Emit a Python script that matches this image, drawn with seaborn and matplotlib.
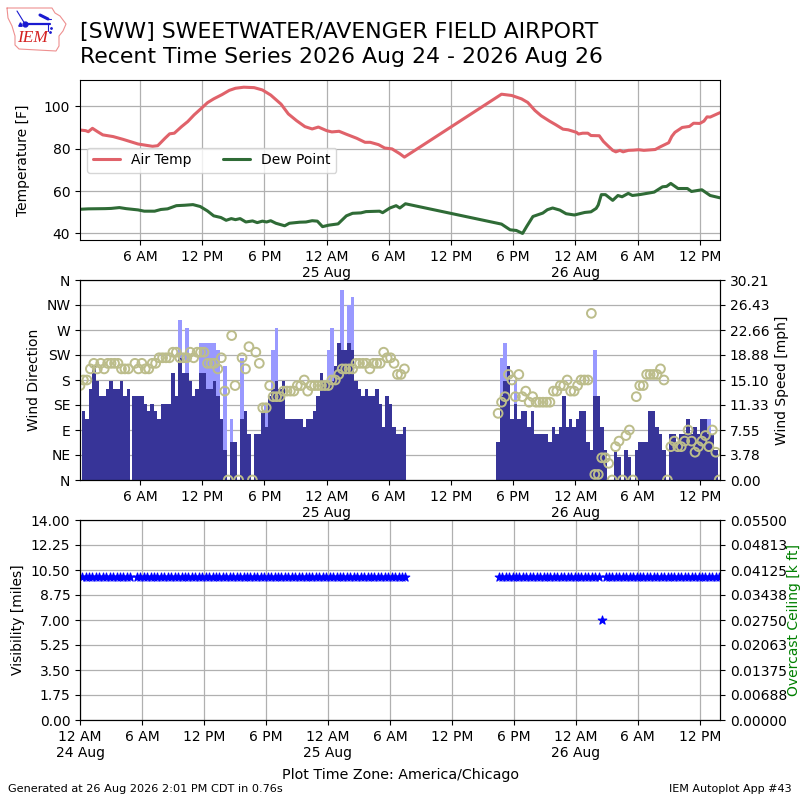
import numpy as np
import pandas as pd
import matplotlib
matplotlib.use('Agg')
import matplotlib.pyplot as plt
import seaborn as sns

# all times are hours after 12 AM 24 Aug
temp_hours = [0.2, 0.75, 1.0, 1.4, 1.9, 2.4, 3.4, 4.35, 5.8, 7.2, 7.7, 8.4, 8.85, 9.3, 10, 10.6, 11.2, 11.9,
              12.5, 13.1, 13.9, 14.6, 15.2, 16, 17, 17.8, 18.6, 19.6, 20.3, 21.1, 21.9, 22.6, 23.2, 24, 24.5,
              25.2, 25.9, 26.9, 27.7, 28.2, 29, 29.6, 30.3, 31.06, 31.5, 40.87, 41.85, 42.8, 43.4, 44.1, 44.7,
              45.5, 46.1, 46.8, 47.3, 48.1, 48.3, 48.7, 49.2, 49.5, 50.3, 50.7, 51.1, 51.6, 51.9, 52.3, 52.6,
              53.1, 53.6, 54.1, 54.6, 55.7, 56.2, 57, 57.3, 57.6, 58.3, 59, 59.4, 60, 60.4, 60.7, 61, 61.95]
air_temp = [88.8, 88.5, 88, 89.6, 88, 86.5, 85.7, 84.4, 82.2, 81.1, 81.4, 84.9, 87, 87.3, 90.4, 92.8, 95.9, 99,
            101.7, 103.5, 105.5, 107.5, 108.5, 109, 108.8, 107.7, 105.3, 101, 96.4, 93.2, 90.4, 89.3, 90.2, 88.5, 87.9,
            88.2, 86.8, 84.9, 83, 83, 81.9, 80.3, 79.9, 77.6, 76, 105.7, 105.1, 103.5, 101.8, 98, 95.5,
            93, 91.3, 89.2, 88.9, 87.7, 86.9, 87.3, 87.3, 86.2, 86.1, 83.4, 81.5, 79.2, 78.5, 79.2, 78.5,
            79.2, 79.3, 79.5, 79.2, 79.6, 80.9, 82.8, 85.8, 87.7, 90, 90.5, 92, 91.9, 93, 95, 94.9, 97]

dew_hours = [0.2, 1, 2.6, 3.2, 4, 4.65, 5.8, 6.4, 7.4, 8, 8.65, 9.5, 10.3, 11.1, 11.8, 12.5, 13.1, 13.8, 14.3,
             14.8, 15.2, 15.65, 16.2, 16.85, 17.3, 17.8, 18.2, 18.6, 19.1, 19.95, 20.4, 21.4, 22, 22.6, 23.1,
             23.6, 24.2, 25.1, 25.9, 26.5, 27.3, 27.8, 29.1, 29.4, 30.1, 30.7, 31.06, 31.6, 40.87, 41.7, 42.3,
             42.9, 43.3, 43.9, 44.85, 45.3, 45.8, 46.5, 47.1, 47.9, 48.9, 49.5, 50, 50.2, 50.5, 50.9, 51.6,
             52.1, 52.5, 53.1, 53.5, 54.3, 55.6, 56.4, 56.8, 57.2, 57.9, 58.8, 59.2, 60.2, 61, 61.95]
dew_point = [51.4, 51.6, 51.7, 51.8, 52.2, 51.7, 51.1, 50.5, 50.5, 51.3, 51.6, 53.1, 53.3, 53.6, 52.7, 50.6, 48.3, 47.5, 46.2,
             47, 46.5, 47, 45.4, 45.9, 45.1, 45.8, 45.4, 46, 44.8, 43.6, 44.8, 45.3, 45.4, 46, 45.8,
             43.2, 43.9, 44.5, 48.3, 49.5, 49.7, 50.3, 50.5, 49.8, 52, 53.1, 52, 54, 44.4, 41.7, 41.4,
             40, 43.3, 48, 49.6, 51.2, 52, 51, 49.3, 48.7, 49.9, 50.2, 51.8, 53.4, 58.3, 58.3, 55.6,
             57.9, 57.3, 58.9, 57.9, 58.4, 59.5, 62, 62.2, 63.6, 61.2, 61.2, 59.8, 60.6, 57.9, 56.8]

# wind reports, three runs of 20 minute obs plus one stray report
wind_hours = np.concatenate([0.2 + np.arange(15) / 3, [5.375], 5.5 + np.arange(79) / 3, 40.54 + np.arange(65) / 3])
na = np.nan
wind_dir = [170, 180, 180, 200, 210, 200, 210, 200, 210, 210, 210, 210, 200, 200, 200,
            na,
            210, 200, 210, 200, 200, 210, 210, 220, 220, 220, 220, 230, 230, 220, 220, 220, 230, 220, 230, 230,
            230, 210, 210, 210, 200, 220, 160, 0, 260, 170, 0, 220, 200, 240,
            0, 230, 210, 130, 130, 170, 150, 150, 150, 160, 160, 160, 160, 170, 170, 180, 160, 170, 170, 170, 170,
            170, 170, 180, 180, 190, 200, 200, 200, 200, 210, 210, 210, 210, 200, 210, 210, 210, 230, 220, 220,
            210, 190, 190, 200,
            120, 140, 150, 190, 180, 150, 190, 150, 160, 140, 150, 140, 140, 140, 140, 140, 160, 160, 170, 170,
            180, 160, 160, 170, 180, 180, 180, 300, 10, 10, 40, 40, 30,
            0, 60, 70, 0, 80, 90, 0, 150, 170, 170, 190, 190, 190, 190, 200, 180, 0, 60, 70, 60, 60, 70, 90,
            70, 50, 60, 70, 80, 60, 90, 50, 0]
speed_kt = [0, 9, 8, 12, 15, 13, 11, 11, 12, 13, 12, 12, 13, 11, 12,
            11,
            11, 11, 11, 10, 9, 10, 9, 8, 10, 10, 10, 14, 11, 16, 14, 14, 13, 11, 12, 14,
            14, 12, 12, 13, 11, 8, 4, 0, 5, 5, 0, 8, 9, 6,
            0, 6, 6, 9, 7, 11, 12, 13, 12, 13, 8, 8, 8, 8, 8, 7, 8, 8, 9, 11, 14,
            13, 13, 13, 15, 18, 17, 17, 18, 17, 13, 12, 11, 12, 11, 11, 12, 10, 7, 11, 10,
            7, 6, 6, 7,
            5, 11, 13, 15, 8, 10, 8, 9, 9, 7, 9, 6, 6, 6, 6, 5, 7, 6, 7, 11,
            7, 8, 7, 8, 9, 9, 5, 4, 11, 11, 7, 4, 0,
            0, 4, 3, 0, 4, 3, 0, 4, 5, 5, 5, 9, 9, 7, 6, 4, 0, 6, 6, 5, 6, 6, 8,
            6, 7, 6, 8, 8, 6, 6, 4, 0]
# 0 means no gust was reported
gust_kt = [0, 0, 0, 0, 0, 0, 0, 0, 0, 0, 0, 0, 0, 0, 0,
           0,
           0, 0, 0, 0, 0, 0, 0, 0, 0, 0, 0, 0, 0, 21, 0, 20, 0, 0, 0, 18,
           18, 18, 18, 18, 17, 0, 15, 0, 8, 0, 0, 16, 0, 0,
           0, 0, 0, 0, 10, 0, 17, 20, 0, 0, 0, 0, 0, 0, 0, 0, 0, 0, 0, 0, 0,
           0, 17, 20, 0, 0, 25, 0, 23, 24, 0, 0, 0, 0, 0, 0, 0, 0, 0, 0, 0,
           0, 0, 0, 0,
           0, 16, 18, 15, 0, 13, 0, 0, 0, 0, 0, 0, 0, 0, 0, 0, 0, 0, 0, 0,
           0, 0, 0, 0, 0, 0, 0, 0, 17, 0, 0, 0, 0,
           0, 0, 0, 0, 0, 0, 0, 0, 0, 0, 0, 0, 0, 0, 0, 0, 0, 0, 0, 0, 0, 0, 0,
           0, 0, 0, 0, 0, 8, 0, 0, 0]
visibility = [10.0] * 15 + [na] + [10.0] * 79 + [10.0] * 30 + [7.0] + [10.0] * 34

tick_hours = [6, 12, 18, 24, 30, 36, 42, 48, 54, 60]
tick_names = ['6 AM', '12 PM', '6 PM', '12 AM\n25 Aug', '6 AM', '12 PM', '6 PM', '12 AM\n26 Aug', '6 AM', '12 PM']
compass = ['N', 'NE', 'E', 'SE', 'S', 'SW', 'W', 'NW', 'N']
speed_ticks = ['0.00', '3.78', '7.55', '11.33', '15.10', '18.88', '22.66', '26.43', '30.21']
vis_ticks = ['0.00', '1.75', '3.50', '5.25', '7.00', '8.75', '10.50', '12.25', '14.00']
ceil_ticks = ['0.00000', '0.00688', '0.01375', '0.02063', '0.02750', '0.03438', '0.04125', '0.04813', '0.05500']

speed_mph = np.array(speed_kt) * 1.15078
gust_mph = np.array(gust_kt) * 1.15078
obs = pd.DataFrame({'hour': wind_hours, 'dir': wind_dir, 'vis': visibility})

sns.set_style('ticks')
plt.rcParams['font.family'] = ['DejaVu Sans']
plt.rcParams['axes.edgecolor'] = 'black'
plt.rcParams['text.color'] = 'black'
plt.rcParams['axes.labelcolor'] = 'black'
plt.rcParams['xtick.color'] = 'black'
plt.rcParams['ytick.color'] = 'black'
plt.rcParams['xtick.direction'] = 'out'
plt.rcParams['ytick.direction'] = 'out'
plt.rcParams['xtick.major.size'] = 3.5
plt.rcParams['ytick.major.size'] = 3.5

grid_style = {'color': '#b0b0b0', 'lw': 0.9}

fig = plt.figure(figsize=(8, 8), dpi=100)
ax1 = fig.add_axes([0.1, 0.7, 0.8, 0.2])
ax2 = fig.add_axes([0.1, 0.4, 0.8, 0.25])
ax3 = fig.add_axes([0.1, 0.1, 0.8, 0.25])

# Temperature panel
sns.lineplot(x=temp_hours, y=air_temp, ax=ax1, color='#e0626a', lw=2.2, label='Air Temp', estimator=None, sort=False)
sns.lineplot(x=dew_hours, y=dew_point, ax=ax1, color='#2f6b36', lw=2.2, label='Dew Point', estimator=None, sort=False)
ax1.set_xlim(0.2, 61.95)
ax1.set_ylim(36.9, 112.4)
ax1.set_yticks([40, 60, 80, 100])
ax1.set_ylabel('Temperature [F]', labelpad=10)
ax1.legend(loc=(0.011, 0.42), ncol=2, columnspacing=2.2)

# Wind panel, bars go on the twin so the circles stay above the grid
wind = ax2.twinx()
wind.set_zorder(ax2.get_zorder() - 1)
ax2.patch.set_visible(False)
wind.bar(wind_hours, gust_mph, width=0.34, color='#9999ff', linewidth=0)
wind.bar(wind_hours, speed_mph, width=0.34, color='#373498', linewidth=0)
sns.scatterplot(data=obs, x='hour', y='dir', ax=ax2, marker='o', s=40, facecolor='none',
                edgecolor='#bcbd8b', linewidth=1.4)
ax2.set_xlim(0.2, 61.95)
ax2.set_ylim(0, 360)
ax2.set_yticks(np.arange(0, 361, 45), compass)
ax2.set_ylabel('Wind Direction')
wind.set_ylim(0, 30.21)
wind.set_yticks(np.linspace(0, 30.21, 9), speed_ticks)
wind.set_ylabel('Wind Speed [mph]')
wind.grid(True, **grid_style)
wind.set_xticks(tick_hours)
wind.xaxis.grid(True, **grid_style)
wind.tick_params(axis='y', right=True, labelright=True)

# Visibility panel
sns.scatterplot(data=obs, x='hour', y='vis', ax=ax3, marker='*', s=42, color='blue', edgecolor='blue', linewidth=0.8)
ax3.set_xlim(0, 61.95)
ax3.set_ylim(0, 14)
ax3.set_yticks(np.linspace(0, 14, 9), vis_ticks)
ax3.set_ylabel('Visibility [miles]')
ceil = ax3.twinx()
ceil.set_ylim(0, 0.055)
ceil.set_yticks(np.linspace(0, 0.055, 9), ceil_ticks)
ceil.set_ylabel('Overcast Ceiling [k ft]', color='green', labelpad=0)
ceil.grid(False)

for ax in (ax1, ax2, ax3):
    ax.set_xticks(tick_hours, tick_names)
ax3.set_xticks([0] + tick_hours, ['12 AM\n24 Aug'] + tick_names)
ax2.set_xlabel('')
ax3.set_xlabel('Plot Time Zone: America/Chicago', fontsize=10.3, labelpad=6)
ax1.set_xlabel('')
for ax in (ax1, ax3):
    ax.grid(True, **grid_style)

fig.text(0.1, 0.9445, '[SWW] SWEETWATER/AVENGER FIELD AIRPORT\nRecent Time Series 2026 Aug 24 - 2026 Aug 26',
         fontsize=15.8, va='center', ha='left', linespacing=1.27)
fig.text(0.01, 0.01, 'Generated at 26 Aug 2026 2:01 PM CDT in 0.76s', fontsize=8.1)
fig.text(0.99, 0.01, 'IEM Autoplot App #43', fontsize=8, ha='right')

# small IEM logo in the corner, its axes run in pixels from (5, 3)
logo = fig.add_axes([5 / 800, 1 - 53 / 800, 65 / 800, 50 / 800])
logo.set_xlim(0, 65)
logo.set_ylim(50, 0)
logo.axis('off')
logo.plot([2, 47, 50, 55, 61, 58, 54, 54, 51, 14, 10, 10, 7, 3, 2],
          [5, 5, 10, 13, 21, 28, 33, 43, 48, 46, 42, 33, 23, 15, 5], color='#ee9090', lw=0.8)
logo.plot([20, 45], [21, 21], color='#1a1ad0', lw=1.6)
logo.plot([20, 12], [21, 8], color='#1a1ad0', lw=0.8)
logo.plot([35, 43], [12, 16], color='#1a1ad0', lw=2.2)
logo.plot([43, 46], [16, 16], color='#1a1ad0', lw=0.8)
logo.plot([43, 43], [21, 28], color='#1a1ad0', lw=0.8)
logo.plot([20], [21], 'o', color='#1a1ad0', ms=3.5)
logo.plot([15], [21], '^', color='#1a1ad0', ms=2.5)
logo.plot([46, 45], [25, 29], '.', color='#1a1ad0', ms=2)
logo.text(12, 35, 'IEM', color='#d42020', fontsize=12.5, family='Liberation Serif', style='italic', va='center')

fig.savefig('out.png', dpi=100)
